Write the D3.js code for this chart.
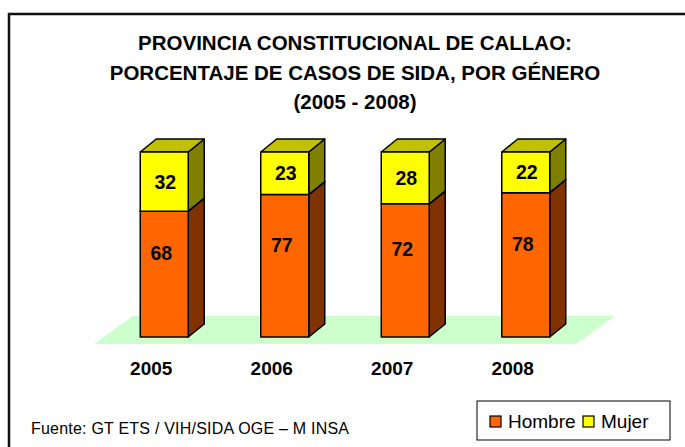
<!DOCTYPE html>
<html>
<head>
<meta charset="utf-8">
<script src="https://cdn.jsdelivr.net/npm/d3@7"></script>
<style>
  body { margin: 0; background: #fff; }
  svg { display: block; font-family: "Liberation Sans", Arial, sans-serif; }
</style>
</head>
<body>
<svg id="chart" width="685" height="447"></svg>
<script>
const years = ["2005", "2006", "2007", "2008"];
const hombre = [68, 77, 72, 78];
const mujer = [32, 23, 28, 22];
const seriesNames = ["Hombre", "Mujer"];
const titleLines = [
  "PROVINCIA CONSTITUCIONAL DE CALLAO:",
  "PORCENTAJE DE CASOS DE SIDA, POR GÉNERO",
  "(2005 - 2008)"
];
const source = "Fuente: GT ETS / VIH/SIDA OGE – M INSA";

const svg = d3.select("#chart");

const colors = {
  Hombre: { front: "#ff6600", side: "#803300", top: "#c05000" },
  Mujer: { front: "#ffff00", side: "#808000", top: "#c0c000" }
};

// chart frame
svg.append("rect")
  .attr("x", 9).attr("y", 14)
  .attr("width", 700).attr("height", 460)
  .attr("fill", "#fff")
  .attr("stroke", "#111")
  .attr("stroke-width", 2.5);

// title
svg.append("g").selectAll("text")
  .data(titleLines)
  .enter().append("text")
  .attr("x", 355)
  .attr("y", (d, i) => 50 + i * 29.5)
  .attr("text-anchor", "middle")
  .attr("font-size", 20.5)
  .attr("font-weight", "bold")
  .text(d => d);

// floor geometry
const floorFront = 344, floorDx = 39, floorDy = 28;
const x = d3.scaleBand().domain(years).range([94, 576]);
const y = d3.scaleLinear().domain([0, 100]).range([337, 152]);
const barW = 48, depthX = 16, depthY = 13, barShift = 10;

svg.append("path")
  .attr("fill", "#ccffcc")
  .attr("d", d3.line()([
    [x.range()[0], floorFront],
    [x.range()[1], floorFront],
    [x.range()[1] + floorDx, floorFront - floorDy],
    [x.range()[0] + floorDx, floorFront - floorDy]
  ]) + "Z");

const rows = years.map((yr, i) => ({ year: yr, Hombre: hombre[i], Mujer: mujer[i] }));
const stacked = d3.stack().keys(seriesNames)(rows);

const bars = svg.append("g");
stacked.forEach(layer => {
  const c = colors[layer.key];
  layer.forEach(seg => {
    const yr = seg.data.year;
    const x0 = x(yr) + x.bandwidth() / 2 + barShift - barW / 2;
    const x1 = x0 + barW;
    const yb = y(seg[0]), yt = y(seg[1]);
    const g = bars.append("g")
      .attr("stroke", "#000")
      .attr("stroke-width", 1.5)
      .attr("stroke-linejoin", "round");
    // side
    g.append("path").attr("fill", c.side)
      .attr("d", d3.line()([[x1, yb], [x1 + depthX, yb - depthY], [x1 + depthX, yt - depthY], [x1, yt]]) + "Z");
    // top
    g.append("path").attr("fill", c.top)
      .attr("d", d3.line()([[x0, yt], [x0 + depthX, yt - depthY], [x1 + depthX, yt - depthY], [x1, yt]]) + "Z");
    // front
    g.append("rect").attr("fill", c.front)
      .attr("x", x0).attr("y", yt)
      .attr("width", barW).attr("height", yb - yt);
    // value label
    const isH = layer.key === "Hombre";
    bars.append("text")
      .attr("x", (x0 + x1) / 2 + (isH ? -3 : 1))
      .attr("y", (yb + yt) / 2 + (isH ? -21 : 0) + 7)
      .attr("text-anchor", "middle")
      .attr("font-size", 19.5)
      .attr("font-weight", "bold")
      .text(seg.data[layer.key]);
  });
});

// category labels
svg.append("g").selectAll("text")
  .data(years)
  .enter().append("text")
  .attr("x", d => x(d) + x.bandwidth() / 2 - 3)
  .attr("y", 375)
  .attr("text-anchor", "middle")
  .attr("font-size", 19)
  .attr("font-weight", "bold")
  .text(d => d);

// source
svg.append("text")
  .attr("x", 31).attr("y", 434)
  .attr("font-size", 16)
  .attr("textLength", 318)
  .attr("lengthAdjust", "spacing")
  .text(source);

// legend
const legend = svg.append("g");
legend.append("rect")
  .attr("x", 477).attr("y", 401)
  .attr("width", 193).attr("height", 39)
  .attr("fill", "#fff")
  .attr("stroke", "#000")
  .attr("stroke-width", 1);
const legX = [490, 583];
seriesNames.forEach((name, i) => {
  legend.append("rect")
    .attr("x", legX[i]).attr("y", 416)
    .attr("width", 11).attr("height", 11)
    .attr("fill", colors[name].front)
    .attr("stroke", "#000").attr("stroke-width", 1.2);
  legend.append("text")
    .attr("x", legX[i] + 18).attr("y", 428)
    .attr("font-size", 19)
    .text(name);
});
</script>
</body>
</html>
